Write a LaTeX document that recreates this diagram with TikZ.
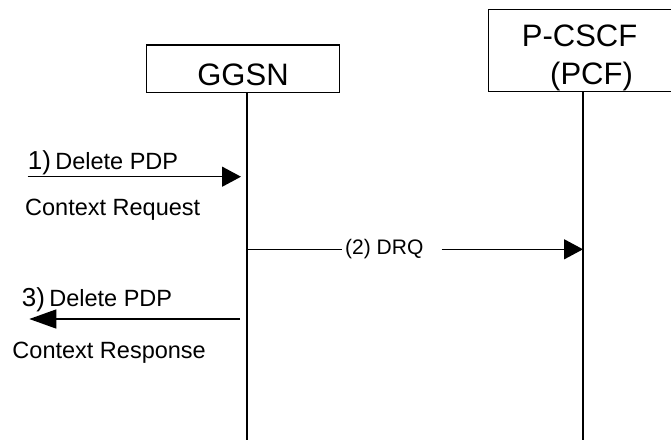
\documentclass[tikz,border=0pt]{standalone}
\usepackage{fontspec}
\setmainfont{Liberation Sans}
\usetikzlibrary{arrows.meta}
\tikzset{
  entity/.style={draw, line width=1.4pt, inner sep=0pt, rectangle},
  lifeline/.style={line width=1.6pt},
  msg/.style={line width=1.4pt, -{Triangle[length=19pt,width=20pt]}},
  msgbig/.style={line width=1.4pt, -{Triangle[length=27pt,width=19pt]}},
  lbl/.style={anchor=base west, inner sep=0pt, font=\fontsize{23.5}{28}\selectfont},
  numlbl/.style={anchor=base west, inner sep=0pt, font=\fontsize{26}{30}\selectfont},
  title/.style={inner sep=0pt, font=\fontsize{31}{37}\selectfont},
  drq/.style={inner sep=0pt, font=\fontsize{21}{25}\selectfont}
}
\begin{document}
\begin{tikzpicture}[x=1pt,y=-1pt]
\useasboundingbox (0,0) rectangle (671,439);
\clip (0,0) rectangle (671,439);
% entities
\node[entity, minimum width=192.6pt, minimum height=47.7pt] (ggsn) at (243,68.85) {};
\node[title, anchor=base] (ggsnt) at (243,85) {GGSN};
\node[entity, minimum width=220pt, minimum height=82.4pt] (pcscf) at (598.3,50.5) {};
\node[title, anchor=base west] (pcscft1) at (521.7,46.7) {P-CSCF};
\node[title, anchor=base west] (pcscft2) at (550,84) {(PCF)};
% lifelines
\coordinate (gend) at (247,440);
\coordinate (pend) at (583,440);
\draw[lifeline] (ggsn.south -| gend) -- (gend);
\draw[lifeline] (pcscf.south -| pend) -- (pend);
% message 1
\coordinate (m1s) at (27.7,176.7);
\coordinate (m1e) at (247,176.7);
\draw[msg, shorten >=6pt] (m1s) -- (m1e);
\node[numlbl] (m1n) at (27.7,169.5) {1)};
\node[lbl, anchor=base west] (m1a) at (m1n.base east) {\,Delete PDP};
\node[lbl] (m1b) at (25,215) {Context Request};
% message 2
\coordinate (m2s) at (247,249.3);
\coordinate (m2e) at (583,249.3);
\node[drq, anchor=west] (m2l) at (345,249.3) {(2) DRQ};
\coordinate (m2m) at (341.7,249.3);
\coordinate (m2r) at (441.7,249.3);
\draw[line width=1.4pt] (m2s) -- (m2m);
\draw[msg] (m2r) -- (m2e);
% message 3
\coordinate (m3s) at (240,319);
\coordinate (m3e) at (29.3,319);
\node[numlbl] (m3n) at (21.7,306) {3)};
\node[lbl, anchor=base west] (m3a) at (m3n.base east) {\,Delete PDP};
\draw[msgbig] (m3s) -- (m3e);
\node[lbl] (m3b) at (12.3,358) {Context Response};
\end{tikzpicture}
\end{document}
